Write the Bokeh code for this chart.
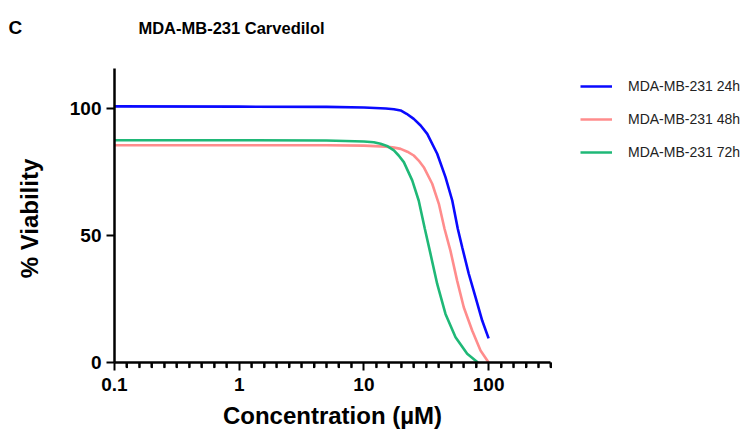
import math
from bokeh.plotting import figure
from bokeh.models import Range1d, FixedTicker, Legend, LegendItem, Label
from bokeh.embed import file_html
from bokeh.resources import INLINE

# ---- data ----
series_names = ["MDA-MB-231 24h", "MDA-MB-231 48h", "MDA-MB-231 72h"]

conc_24h = [0.1, 1, 5, 10, 15, 17.4, 19.7, 22.0, 25.1, 28.5, 32.2, 38.7, 45.1, 51.1, 56.6, 61.4, 69.3, 78.5, 88.8, 100]
via_24h = [100.7, 100.6, 100.5, 100.3, 99.9, 99.6, 99.1, 97.8, 95.8, 93.2, 89.9, 82.1, 72.9, 63.7, 52.6, 45.3, 34.9, 25.7, 16.5, 9.5]

conc_48h = [0.1, 1, 5, 10, 15, 17.5, 19.7, 22.3, 25.1, 27.5, 30.2, 35.3, 39.9, 44.3, 49.4, 55.9, 63.2, 73.8, 86.1, 100]
via_48h = [85.4, 85.4, 85.4, 85.3, 84.9, 84.5, 84.0, 82.9, 81.4, 79.4, 76.8, 70.3, 62.4, 52.6, 44.0, 32.2, 21.7, 12.6, 4.7, 0.0]

conc_72h = [0.1, 1, 5, 10, 12.0, 13.6, 15.5, 17.4, 19.0, 20.9, 24.4, 27.5, 30.8, 34.2, 38.7, 45.1, 54.3, 67.3, 82.0]
via_72h = [87.4, 87.4, 87.3, 86.9, 86.6, 86.0, 85.0, 83.4, 81.4, 78.8, 71.6, 63.7, 52.6, 42.7, 30.9, 19.1, 9.9, 3.4, 0.0]

colors = ["#0a0aff", "#ff8c8c", "#1fb877"]

x_major = [0.1, 1, 10, 100]
x_minor = [10 ** (-1 + k / 10) for k in range(1, 36) if k % 10 != 0]
y_major = [0, 50, 100]
x_axis_start, x_axis_end = 0.1, 10 ** 2.5
y_axis_start, y_axis_end = 0, 115.6

title_text = "MDA-MB-231 Carvedilol"
panel_letter = "C"
x_label = "Concentration (\u00b5M)"
y_label = "% Viability"

FONT = "Liberation Sans"

# The frame covers the whole canvas; the axes sit at fixed data locations,
# limited to their drawn extent with bounds.
p = figure(width=753, height=432, x_axis_type="log",
           x_range=Range1d(10 ** -1.914, 10 ** 4.124), y_range=Range1d(-27.53, 142.35),
           output_backend="svg", toolbar_location=None,
           min_border_left=0, min_border_right=0,
           min_border_top=0, min_border_bottom=0)

p.outline_line_color = None
p.grid.visible = False
p.background_fill_color = "white"
p.border_fill_color = "white"

renderers = []
for cx, vy, c in zip([conc_24h, conc_48h, conc_72h], [via_24h, via_48h, via_72h], colors):
    r = p.line(cx, vy, line_color=c, line_width=2.6)
    renderers.append(r)

# main axes
p.xaxis[0].ticker = FixedTicker(ticks=x_major, minor_ticks=x_minor)
p.xaxis[0].major_label_overrides = {0.1: "0.1", 1: "1", 10: "10", 100: "100"}
p.xaxis[0].bounds = (x_axis_start, x_axis_end)
p.xaxis[0].fixed_location = y_axis_start
p.yaxis.ticker = FixedTicker(ticks=y_major)
p.yaxis.bounds = (y_axis_start, y_axis_end)
p.yaxis.fixed_location = x_axis_start

for ax in [p.xaxis[0], p.yaxis[0]]:
    ax.axis_line_width = 2.5
    ax.axis_line_color = "black"
    ax.major_tick_line_width = 2
    ax.major_tick_line_color = "black"
    ax.major_tick_in = 0
    ax.major_tick_out = 8
    ax.minor_tick_line_width = 2
    ax.minor_tick_line_color = "black"
    ax.minor_tick_in = 0
    ax.minor_tick_out = 5
    ax.major_label_text_font = FONT
    ax.major_label_text_font_style = "bold"
    ax.major_label_text_font_size = "19px"
    ax.major_label_text_color = "black"
p.yaxis.minor_tick_line_alpha = 0

p.xaxis[0].major_label_standoff = 8
p.yaxis.major_label_standoff = 5

# minor ticks of the x axis drawn again on top (evenly spaced in log space, outward)
minor_len = 2.2  # in y data units (~5.5 px)
p.segment(x0=x_minor, y0=[y_axis_start] * len(x_minor),
          x1=x_minor, y1=[y_axis_start - minor_len] * len(x_minor),
          line_color="black", line_width=2, level="overlay")

legend = Legend(items=[LegendItem(label=n, renderers=[r]) for n, r in zip(series_names, renderers)],
                location=(580, 270), orientation="vertical",
                glyph_width=32, glyph_height=20, label_height=20, spacing=13,
                label_standoff=16, padding=0, margin=0,
                border_line_alpha=0, background_fill_alpha=0,
                label_text_font=FONT, label_text_font_size="14px",
                label_text_color="#222222")
p.add_layout(legend, "center")

H = 432
p.add_layout(Label(x=231, y=H - 27, x_units="screen", y_units="screen",
                   text=title_text, text_font=FONT, text_font_style="bold",
                   text_font_size="16.5px", text_align="center", text_baseline="middle",
                   text_color="black"))
p.add_layout(Label(x=8, y=H - 27, x_units="screen", y_units="screen",
                   text=panel_letter, text_font=FONT, text_font_style="bold",
                   text_font_size="19px", text_align="left", text_baseline="middle",
                   text_color="black"))
p.add_layout(Label(x=332, y=H - 415, x_units="screen", y_units="screen",
                   text=x_label, text_font=FONT, text_font_style="bold",
                   text_font_size="24px", text_align="center", text_baseline="middle",
                   text_color="black"))
p.add_layout(Label(x=29, y=H - 218, x_units="screen", y_units="screen",
                   text=y_label, text_font=FONT, text_font_style="bold",
                   text_font_size="24px", text_align="center", text_baseline="middle",
                   angle=math.pi / 2, text_color="black"))

open("out.html", "w").write(file_html(p, INLINE))
